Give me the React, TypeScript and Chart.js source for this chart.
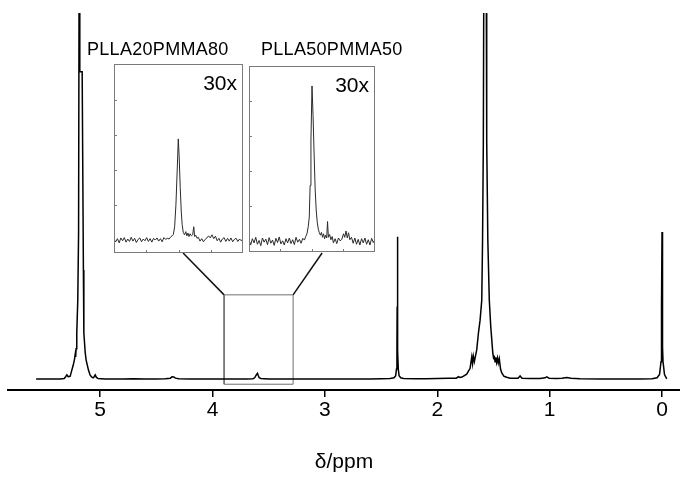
import { useEffect, useRef } from 'react';
import { Chart, registerables } from 'chart.js';

Chart.register(...registerables);

const FONT = "'Liberation Sans', Arial, Helvetica, sans-serif";

// ---- Main spectrum (chemical shift in ppm, intensity in arbitrary units) ----
const mainPpm = [
  5.57, 5.5, 5.42, 5.356, 5.32, 5.307, 5.296, 5.285, 5.267, 5.252, 5.24, 5.229, 5.222, 5.218, 5.214,
  5.208, 5.199, 5.192, 5.186, 5.181, 5.176, 5.171, 5.166, 5.16, 5.155, 5.149, 5.145, 5.133, 5.125,
  5.104, 5.089, 5.074, 5.062, 5.053, 5.044, 5.033, 5.018, 4.956, 4.9, 4.8, 4.7, 4.6, 4.5, 4.42,
  4.375, 4.36, 4.345, 4.33, 4.3, 4.2, 4.1, 4.0, 3.9, 3.8, 3.7, 3.64, 3.625, 3.612, 3.6, 3.593,
  3.585, 3.57, 3.5, 3.4, 3.3, 3.2, 3.1, 3.0, 2.9, 2.8, 2.7, 2.6, 2.5, 2.42, 2.385, 2.37, 2.363,
  2.359, 2.357, 2.355, 2.353, 2.351, 2.347, 2.34, 2.325, 2.3, 2.2, 2.1, 2.0, 1.9, 1.83, 1.812,
  1.8, 1.78, 1.738, 1.708, 1.693, 1.686, 1.679, 1.67, 1.649, 1.633, 1.619, 1.604, 1.597, 1.59,
  1.584, 1.575, 1.566, 1.56, 1.55, 1.537, 1.524, 1.506, 1.499, 1.492, 1.486, 1.479, 1.472, 1.464,
  1.457, 1.448, 1.437, 1.426, 1.406, 1.382, 1.352, 1.308, 1.281, 1.263, 1.246, 1.174, 1.085,
  1.041, 1.026, 1.005, 0.943, 0.89, 0.848, 0.81, 0.73, 0.55, 0.374, 0.196, 0.089, 0.044, 0.022,
  0.009, 0.006, 0.003, 0.0, -0.003, -0.006, -0.009, -0.022, -0.042,
];
const mainIntensity = [
  0.25, 0.3, 0.28, 0.3, 0.4, 0.9, 1.4, 0.9, 1.0, 2.7, 4.0, 5.5, 7.0, 6.3, 8.5,
  12.8, 21.8, 40, 130, 84, 84, 84, 84, 84, 84, 30, 12.8, 7.5, 5.5,
  2.7, 1.3, 0.8, 0.6, 0.9, 1.4, 0.7, 0.4, 0.3, 0.3, 0.25, 0.35, 0.3, 0.3, 0.35,
  0.5, 0.9, 0.85, 0.5, 0.35, 0.3, 0.3, 0.25, 0.3, 0.3, 0.3, 0.35, 0.6, 1.3, 1.8, 1.2,
  0.6, 0.4, 0.3, 0.3, 0.3, 0.3, 0.3, 0.3, 0.3, 0.3, 0.3, 0.3, 0.35, 0.4, 0.6, 1.2, 3,
  8, 20, 39, 20, 8, 3, 1.2, 0.6, 0.4, 0.35, 0.35, 0.4, 0.45, 0.5, 0.9,
  0.7, 0.8, 1.6, 3.2, 6.3, 4.5, 6.5, 5.0, 8.2, 13, 16.3, 21.8, 38, 65,
  130, 150, 130, 65, 38, 21.8, 14.5, 7.4, 6.0, 6.3, 5.0, 6.2, 4.8, 6.0,
  4.6, 5.8, 3.0, 1.9, 1.0, 0.75, 0.5, 0.45, 0.5, 1.1, 0.5, 0.4, 0.4,
  0.6, 0.85, 0.5, 0.4, 0.5, 0.7, 0.45, 0.35, 0.3, 0.3, 0.3, 0.35, 0.6, 1.5,
  5, 9, 20, 40.3, 20, 9, 5, 1.5, 0.3,
];

// ---- Region magnified in the insets (drawn as a box on the main spectrum) ----
const zoomBoxPpm = [3.897, 3.283, 3.283, 3.897, 3.897];
const zoomBoxIntensity = [-1.15, -1.15, 23.2, 23.2, -1.15];
const leftLinkPpm = [4.262, 3.897];
const leftLinkIntensity = [34.6, 23.2];
const rightLinkPpm = [3.025, 3.283];
const rightLinkIntensity = [34.6, 23.2];

// ---- Inset 1: PLLA20PMMA80 (30x) ----
const inset1Ppm = [
  3.9, 3.892, 3.884, 3.876, 3.868, 3.86, 3.852, 3.844, 3.836, 3.828, 3.82, 3.812, 3.804, 3.796,
  3.788, 3.78, 3.772, 3.764, 3.756, 3.748, 3.74, 3.732, 3.724, 3.716, 3.708, 3.7, 3.692, 3.684,
  3.676, 3.668, 3.66, 3.652, 3.644, 3.636, 3.63, 3.624, 3.618, 3.612, 3.606, 3.601, 3.597, 3.592,
  3.587, 3.583, 3.578, 3.572, 3.566, 3.561, 3.556, 3.551, 3.546, 3.54, 3.534, 3.529, 3.525, 3.52,
  3.514, 3.508, 3.5, 3.492, 3.484, 3.476, 3.468, 3.46, 3.452, 3.444, 3.436, 3.428, 3.42, 3.412,
  3.404, 3.396, 3.388, 3.38, 3.372, 3.364, 3.356, 3.348, 3.34, 3.332, 3.324, 3.316, 3.308, 3.3,
];
const inset1Intensity = [
  0.02, -0.05, 0.04, -0.08, 0.06, -0.02, 0.07, -0.06, 0.03, -0.04, 0.08, -0.03, 0.05, -0.07,
  0.02, 0.06, -0.05, 0.03, -0.02, 0.07, -0.04, 0.04, -0.06, 0.05, 0.0, 0.06, -0.03, 0.04,
  -0.05, 0.07, 0.02, 0.05, 0.03, 0.09, 0.12, 0.16, 0.38, 1.0, 2.0, 2.89, 2.4, 1.5,
  0.8, 0.45, 0.22, 0.15, 0.24, 0.12, 0.2, 0.1, 0.18, 0.12, 0.15, 0.38, 0.1, 0.14,
  0.05, 0.08, -0.03, 0.04, -0.05, 0.02, 0.06, 0.12, 0.06, 0.15, 0.04, 0.11, -0.02, 0.05,
  -0.06, 0.03, 0.07, -0.04, 0.05, -0.03, 0.06, -0.05, 0.02, 0.05, -0.04, 0.03, -0.02, 0.04,
];

// ---- Inset 2: PLLA50PMMA50 (30x) ----
const inset2Ppm = [
  3.9, 3.892, 3.884, 3.876, 3.868, 3.86, 3.852, 3.844, 3.836, 3.828, 3.82, 3.812, 3.804, 3.796,
  3.788, 3.78, 3.772, 3.764, 3.756, 3.748, 3.74, 3.732, 3.724, 3.716, 3.708, 3.7, 3.692, 3.684,
  3.676, 3.668, 3.66, 3.652, 3.644, 3.636, 3.63, 3.624, 3.618, 3.613, 3.609, 3.605, 3.6, 3.595,
  3.59, 3.585, 3.58, 3.575, 3.57, 3.565, 3.56, 3.555, 3.55, 3.545, 3.54, 3.535, 3.53, 3.526,
  3.522, 3.516, 3.51, 3.504, 3.498, 3.49, 3.482, 3.474, 3.466, 3.458, 3.45, 3.444, 3.438, 3.432,
  3.426, 3.42, 3.412, 3.404, 3.396, 3.388, 3.38, 3.372, 3.364, 3.356, 3.348, 3.34, 3.332, 3.324,
  3.316, 3.308, 3.3,
];
const inset2Intensity = [
  0.05, -0.1, 0.08, -0.04, 0.12, -0.08, 0.03, -0.12, 0.1, -0.02, 0.07, -0.09, 0.11, -0.05,
  0.04, -0.11, 0.09, -0.03, 0.13, -0.07, 0.02, -0.1, 0.08, -0.04, 0.1, -0.06, 0.05, -0.09,
  0.12, -0.02, 0.06, -0.05, 0.09, 0.04, 0.14, 0.22, 0.42, 0.7, 1.6, 2.9, 4.44, 3.6,
  2.5, 1.5, 0.9, 0.55, 0.35, 0.25, 0.18, 0.26, 0.12, 0.22, 0.08, 0.18, 0.1, 0.57,
  0.12, 0.2, 0.05, 0.14, -0.04, 0.08, -0.06, 0.1, 0.02, 0.06, 0.22, 0.12, 0.3, 0.1,
  0.25, 0.05, 0.12, -0.05, 0.1, -0.08, 0.06, -0.1, 0.08, -0.04, 0.1, -0.08, 0.05, -0.1,
  0.09, -0.03, 0.06,
];

const sampleLabels = ['PLLA20PMMA80', 'PLLA50PMMA50'];
const magnification = '30x';
const axisTitle = 'δ/ppm';

const toXY = (xs: number[], ys: number[]) => xs.map((x, i) => ({ x, y: ys[i] }));

const lineDs = (xs: number[], ys: number[], color: string, width: number) => ({
  data: toXY(xs, ys),
  borderColor: color,
  borderWidth: width,
  pointRadius: 0,
  tension: 0,
  fill: false,
  clip: 0,
});

const mainLabels = {
  id: 'mainLabels',
  afterDraw(chart: any) {
    const { ctx } = chart;
    ctx.save();
    ctx.fillStyle = '#000';
    ctx.font = `18px ${FONT}`;
    (ctx as any).letterSpacing = '0.3px';
    ctx.textAlign = 'left';
    ctx.textBaseline = 'alphabetic';
    ctx.fillText(sampleLabels[0], 87, 55);
    ctx.fillText(sampleLabels[1], 261, 55);
    ctx.restore();
  },
};

const insetFrame = {
  id: 'insetFrame',
  afterDatasetsDraw(chart: any, _args: any, opts: any) {
    const { ctx, chartArea: a, scales } = chart;
    ctx.save();
    ctx.strokeStyle = '#7a7a7a';
    ctx.lineWidth = 1;
    ctx.strokeRect(a.left + 0.5, a.top + 0.5, a.right - a.left - 1, a.bottom - a.top - 1);
    ctx.beginPath();
    for (const t of scales.x.ticks || []) {
      const px = Math.round(scales.x.getPixelForValue(t.value)) + 0.5;
      if (px < a.left + 4 || px > a.right - 4) continue;
      ctx.moveTo(px, a.bottom);
      ctx.lineTo(px, a.bottom - 3);
    }
    for (const t of scales.y.ticks || []) {
      const py = Math.round(scales.y.getPixelForValue(t.value)) + 0.5;
      if (py < a.top + 4 || py > a.bottom - 4) continue;
      ctx.moveTo(a.left, py);
      ctx.lineTo(a.left + 3, py);
    }
    ctx.stroke();
    ctx.fillStyle = '#000';
    ctx.font = `21px ${FONT}`;
    ctx.textAlign = 'right';
    ctx.textBaseline = 'alphabetic';
    ctx.fillText(opts.text, a.right - 6, a.top + 26);
    ctx.restore();
  },
};

function insetConfig(xs: number[], ys: number[], yMin: number, yMax: number): any {
  return {
    type: 'line',
    data: { datasets: [lineDs(xs, ys, '#2a2a2a', 1)] },
    options: {
      animation: false,
      responsive: false,
      events: [],
      layout: { padding: 2 },
      scales: {
        x: { type: 'linear', display: false, reverse: true, min: 3.3, max: 3.9, ticks: { stepSize: 0.15 } },
        y: { type: 'linear', display: false, min: yMin, max: yMax, ticks: { stepSize: 1 } },
      },
      plugins: {
        legend: { display: false },
        tooltip: { enabled: false },
        insetFrame: { text: magnification },
      },
    },
    plugins: [insetFrame],
  };
}

export default function App() {
  const mainRef = useRef<HTMLCanvasElement>(null);
  const in1Ref = useRef<HTMLCanvasElement>(null);
  const in2Ref = useRef<HTMLCanvasElement>(null);

  useEffect(() => {
    const main = new Chart(mainRef.current as HTMLCanvasElement, {
      type: 'line',
      data: {
        datasets: [
          lineDs(mainPpm, mainIntensity, '#000', 1.5),
          lineDs(zoomBoxPpm, zoomBoxIntensity, '#707070', 1),
          lineDs(leftLinkPpm, leftLinkIntensity, '#111', 1.5),
          lineDs(rightLinkPpm, rightLinkIntensity, '#111', 1.5),
        ] as any,
      },
      options: {
        animation: false,
        responsive: false,
        events: [],
        layout: { padding: { left: 8, right: 0, top: 13, bottom: 0 } },
        scales: {
          x: {
            type: 'linear',
            reverse: true,
            min: -0.16,
            max: 5.82,
            ticks: {
              stepSize: 1,
              includeBounds: false,
              autoSkip: false,
              maxRotation: 0,
              padding: 1,
              color: '#000',
              font: { family: FONT, size: 21 },
              callback: (v: any) => String(v),
            },
            grid: { drawOnChartArea: false, drawTicks: true, tickLength: 7, color: '#000', lineWidth: 1.5 },
            border: { display: true, color: '#000', width: 2 },
            title: {
              display: true,
              text: axisTitle,
              color: '#000',
              font: { family: FONT, size: 21 },
              padding: { top: 0, bottom: 2 },
            },
            afterFit: (s: any) => {
              s.height = 87;
            },
          } as any,
          y: { type: 'linear', display: false, min: -2.725, max: 100 },
        },
        plugins: { legend: { display: false }, tooltip: { enabled: false } },
      },
      plugins: [mainLabels],
    } as any);
    const c1 = new Chart(in1Ref.current as HTMLCanvasElement, insetConfig(inset1Ppm, inset1Intensity, -0.37, 5.03));
    const c2 = new Chart(in2Ref.current as HTMLCanvasElement, insetConfig(inset2Ppm, inset2Intensity, -0.3, 5.01));
    return () => {
      main.destroy();
      c1.destroy();
      c2.destroy();
    };
  }, []);

  return (
    <div style={{ position: 'absolute', left: 0, top: 0, width: 680, height: 477, background: '#fff' }}>
      <canvas ref={mainRef} width={680} height={477} style={{ position: 'absolute', left: 0, top: 0 }} />
      <canvas ref={in1Ref} width={133} height={193} style={{ position: 'absolute', left: 112, top: 62 }} />
      <canvas ref={in2Ref} width={130} height={190} style={{ position: 'absolute', left: 247, top: 64 }} />
    </div>
  );
}
